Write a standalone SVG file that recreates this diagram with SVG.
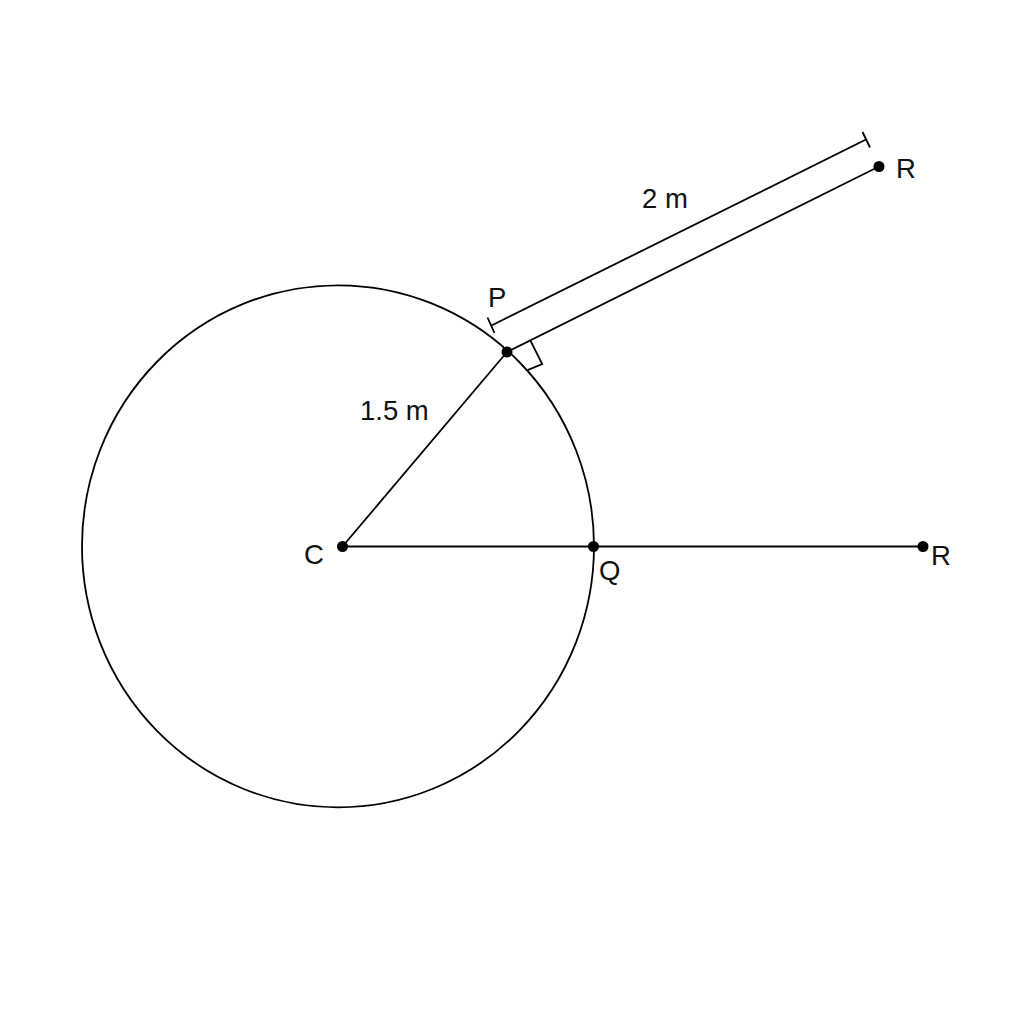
<svg xmlns="http://www.w3.org/2000/svg" width="1024" height="1024" viewBox="0 0 1024 1024">
<style>
.ln{stroke:#000;stroke-width:1.8;fill:none}
.dot{fill:#000}
.lbl{font-family:"Liberation Sans",Arial,sans-serif;font-size:27.5px;fill:#111}
</style>
<rect width="1024" height="1024" fill="#fff"/>
<g id="circle"><ellipse class="ln" cx="338" cy="546.3" rx="256" ry="261"/></g>
<g id="connectors">
<line class="ln" x1="342.5" y1="546.5" x2="507" y2="352"/>
<line class="ln" x1="342.5" y1="546.5" x2="923" y2="546.5"/>
<line class="ln" x1="507" y1="352" x2="879" y2="166.5"/>
<polyline class="ln" points="530.3,340.4 542.2,364 527.5,370.2"/>
<g id="dimension">
<line class="ln" x1="491.5" y1="325.5" x2="866" y2="139.5"/>
<line class="ln" x1="487.5" y1="317.5" x2="494.5" y2="333"/>
<line class="ln" x1="862.5" y1="132" x2="870" y2="147.5"/>
</g>
</g>
<g id="C"><circle class="dot" cx="342.5" cy="546.5" r="5.5"/><text class="lbl" x="304" y="564">C</text></g>
<g id="P"><circle class="dot" cx="507" cy="352" r="5.5"/><text class="lbl" x="488" y="307">P</text></g>
<g id="Q"><circle class="dot" cx="593.5" cy="546.5" r="5.5"/><text class="lbl" x="599" y="580">Q</text></g>
<g id="R1"><circle class="dot" cx="879" cy="166.5" r="5.5"/><text class="lbl" x="896" y="178">R</text></g>
<g id="R2"><circle class="dot" cx="923" cy="546.5" r="5.5"/><text class="lbl" x="931" y="565">R</text></g>
<text class="lbl" x="360" y="420">1.5 m</text>
<text class="lbl" x="642" y="208">2 m</text>
</svg>
